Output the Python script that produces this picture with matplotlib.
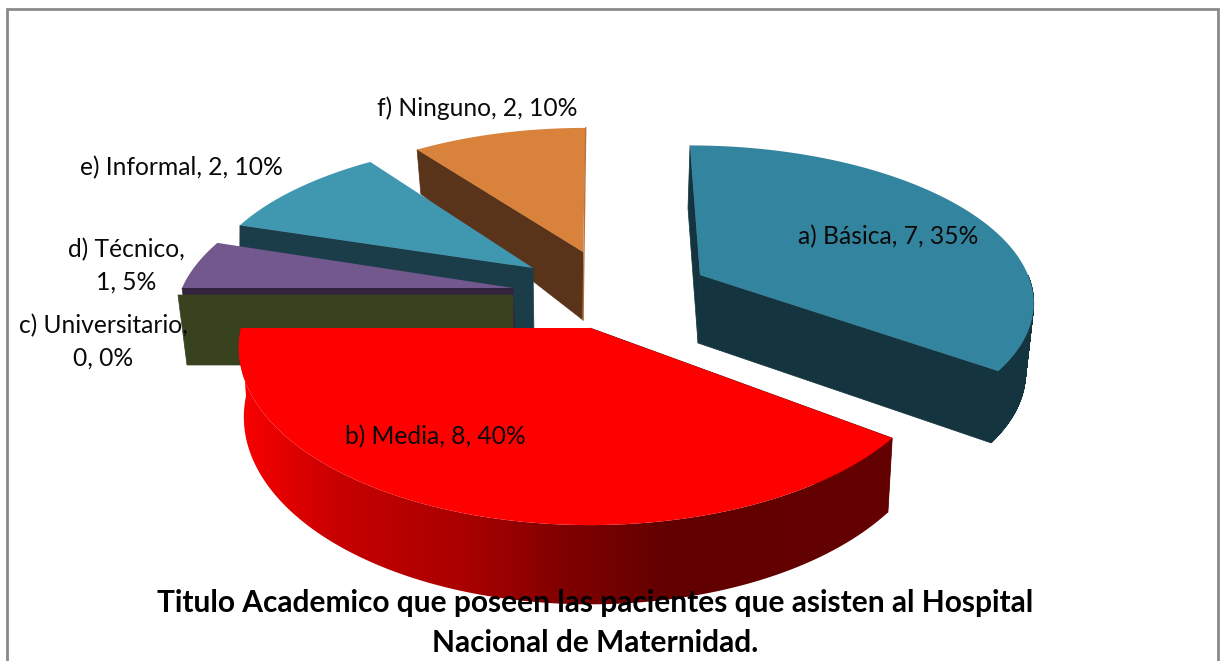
#  titulo academico - exploded 3d pie, matplotlib has no real 3d pie so the slices are built by hand
import matplotlib
matplotlib.use('Agg')
import matplotlib.pyplot as plt
from matplotlib.colors import LinearSegmentedColormap
from matplotlib.patches import PathPatch
from matplotlib.path import Path
import numpy as np

categories = ['a) Básica', 'b) Media', 'c) Universitario', 'd) Técnico', 'e) Informal', 'f) Ninguno']
values = [7, 8, 0, 1, 2, 2]
title_lines = ['Titulo Academico que poseen las pacientes que asisten al Hospital',
               'Nacional de Maternidad.']

plt.rcParams['font.family'] = ['Lato', 'DejaVu Sans']

# geometry of each slice, in pixels: top = (x, y, a, b, c, tilt), bottom is the same for the lower face
top_geom = {
    'a': (700, 275, 328, 149, 11.5, 0),
    'b': (590, 328, 349, 175, 0, 0),
    'c': (513, 295, 335, 150, 0, 0),
    'd': (513, 288, 331, 151, -29, 0),
    'e': (533, 268, 324, 143, -16, 0),
    'f': (583, 252, 312, 138, -3, 0),
}
bottom_geom = {
    'a': (698, 343, 322, 155, 11.5, 0),
    'b': (590, 396, 344, 185, 0, 0),
    'c': (513, 365, 326, 150, 0, 0),
    'd': (515, 335, 332, 150, 0, 40),
    'e': (534, 336, 320, 298, 0, 0),
    'f': (583, 320, 305, 170, -3, 0),
}
persp = {'a': 0.15, 'b': 0.112, 'c': 0.112, 'd': 0.112, 'e': 0.112, 'f': 0.112}
top_colors = ['#33849e', '#ff0000', '#39421f', '#72588d', '#4097b0', '#d9823b']
side_colors = ['#14353f', '#640000', '#39421f', '#33233f', '#1b3d4a', '#59331a']
draw_order = [5, 4, 3, 2, 0, 1]

# label positions (x center, y center of the block)
label_pos = [(888, 237), (435, 437), (103, 342), (126, 266), (181, 168), (477, 108)]
label_break = [False, False, True, True, False, False]


def rim(theta, geom, k):
    x0, y0, a, b, c, tilt = geom
    t = np.radians(theta)
    X = np.sin(t)
    Y = -np.cos(t)
    s = 1 / (1 - k * Y)
    return x0 + (a * X + c * Y) * s, y0 + (b * Y + tilt * X) * s


def rim_path(tx, ty, bx, by):
    # union of small quads, a single outline leaves notches where the two arcs cross
    verts = []
    codes = []
    for j in range(len(tx) - 1):
        verts += [(tx[j], ty[j]), (tx[j + 1], ty[j + 1]), (bx[j + 1], by[j + 1]), (bx[j], by[j]), (tx[j], ty[j])]
        codes += [Path.MOVETO, Path.LINETO, Path.LINETO, Path.LINETO, Path.CLOSEPOLY]
    return Path(verts, codes)


red_side = LinearSegmentedColormap.from_list('red_side', [
    (0.0, '#fa0000'), (0.15, '#c80000'), (0.35, '#a80000'),
    (0.5, '#800000'), (0.66, '#620000'), (1.0, '#640000')])

fig = plt.figure(figsize=(12.24, 6.61), dpi=100)
ax = fig.add_axes([0, 0, 1, 1])
ax.axis('off')

# chart frame, bottom is cut off in the picture
ax.plot([7, 7, 1218, 1218], [661, 9, 9, 661], color='#8a8a8a', lw=2, solid_joinstyle='miter', zorder=1)

total = sum(values)
edges = np.concatenate([[0], np.cumsum(values)]) / total * 360

z = 2
for i in draw_order:
    key = categories[i][0]
    t1, t2 = edges[i], edges[i + 1]
    gt, gb = top_geom[key], bottom_geom[key]
    k = persp[key]

    # flat wall at the start of the slice, a) also shows the one at its end
    walls = (t1, t2) if key == 'a' else (t1,)
    for w in walls:
        tx, ty = rim(w, gt, k)
        bx, by = rim(w, gb, k)
        ax.fill([gt[0], tx, bx, gb[0]], [gt[1], ty, by, gb[1]], color=side_colors[i], lw=0.5, zorder=z)
    z += 1

    # outer rim, only the part that faces the viewer
    lo, hi = max(t1, 90), min(t2, 270)
    if hi > lo:
        th = np.linspace(lo, hi, 160)
        tx, ty = rim(th, gt, k)
        bx, by = rim(th, gb, k)
        path = rim_path(tx, ty, bx, by)
        if key == 'b':
            # horizontal gradient, clipped to the rim shape
            grad = np.linspace(0, 1, 512).reshape(1, -1)
            im = ax.imshow(grad, cmap=red_side, extent=(238, 893, 640, 320), aspect='auto', zorder=z)
            im.set_clip_path(path, ax.transData)
        else:
            ax.add_patch(PathPatch(path, facecolor=side_colors[i], edgecolor=side_colors[i], lw=0.5, zorder=z))
    z += 1

    # top face
    if t2 > t1:
        th = np.linspace(t1, t2, 120)
        tx, ty = rim(th, gt, k)
        ax.fill(np.r_[gt[0], tx], np.r_[gt[1], ty], color=top_colors[i], lw=0, zorder=z)
    z += 1

    # thin lit edge on the back wall of the last slice
    if key == 'f':
        ex, ey = rim(t2, gt, k)
        ax.plot([ex, gb[0]], [ey, gb[1]], color='#b8733a', lw=1, zorder=z)
        z += 1

ax.set_xlim(0, 1224)
ax.set_ylim(661, 0)

for i, cat in enumerate(categories):
    pct = round(values[i] / total * 100)
    sep = ',\n' if label_break[i] else ', '
    txt = f'{cat}{sep}{values[i]}, {pct}%'
    ax.text(label_pos[i][0], label_pos[i][1], txt, fontsize=17.7, color='#0a0a0a', ha='center', va='center',
            linespacing=1.47, multialignment='center', zorder=100)

ax.text(595, 603, title_lines[0], fontsize=21.5, fontweight='bold', color='black', ha='center', va='center', zorder=100)
ax.text(595, 643, title_lines[1], fontsize=21.5, fontweight='bold', color='black', ha='center', va='center', zorder=100)

fig.savefig('out.png', dpi=100)
